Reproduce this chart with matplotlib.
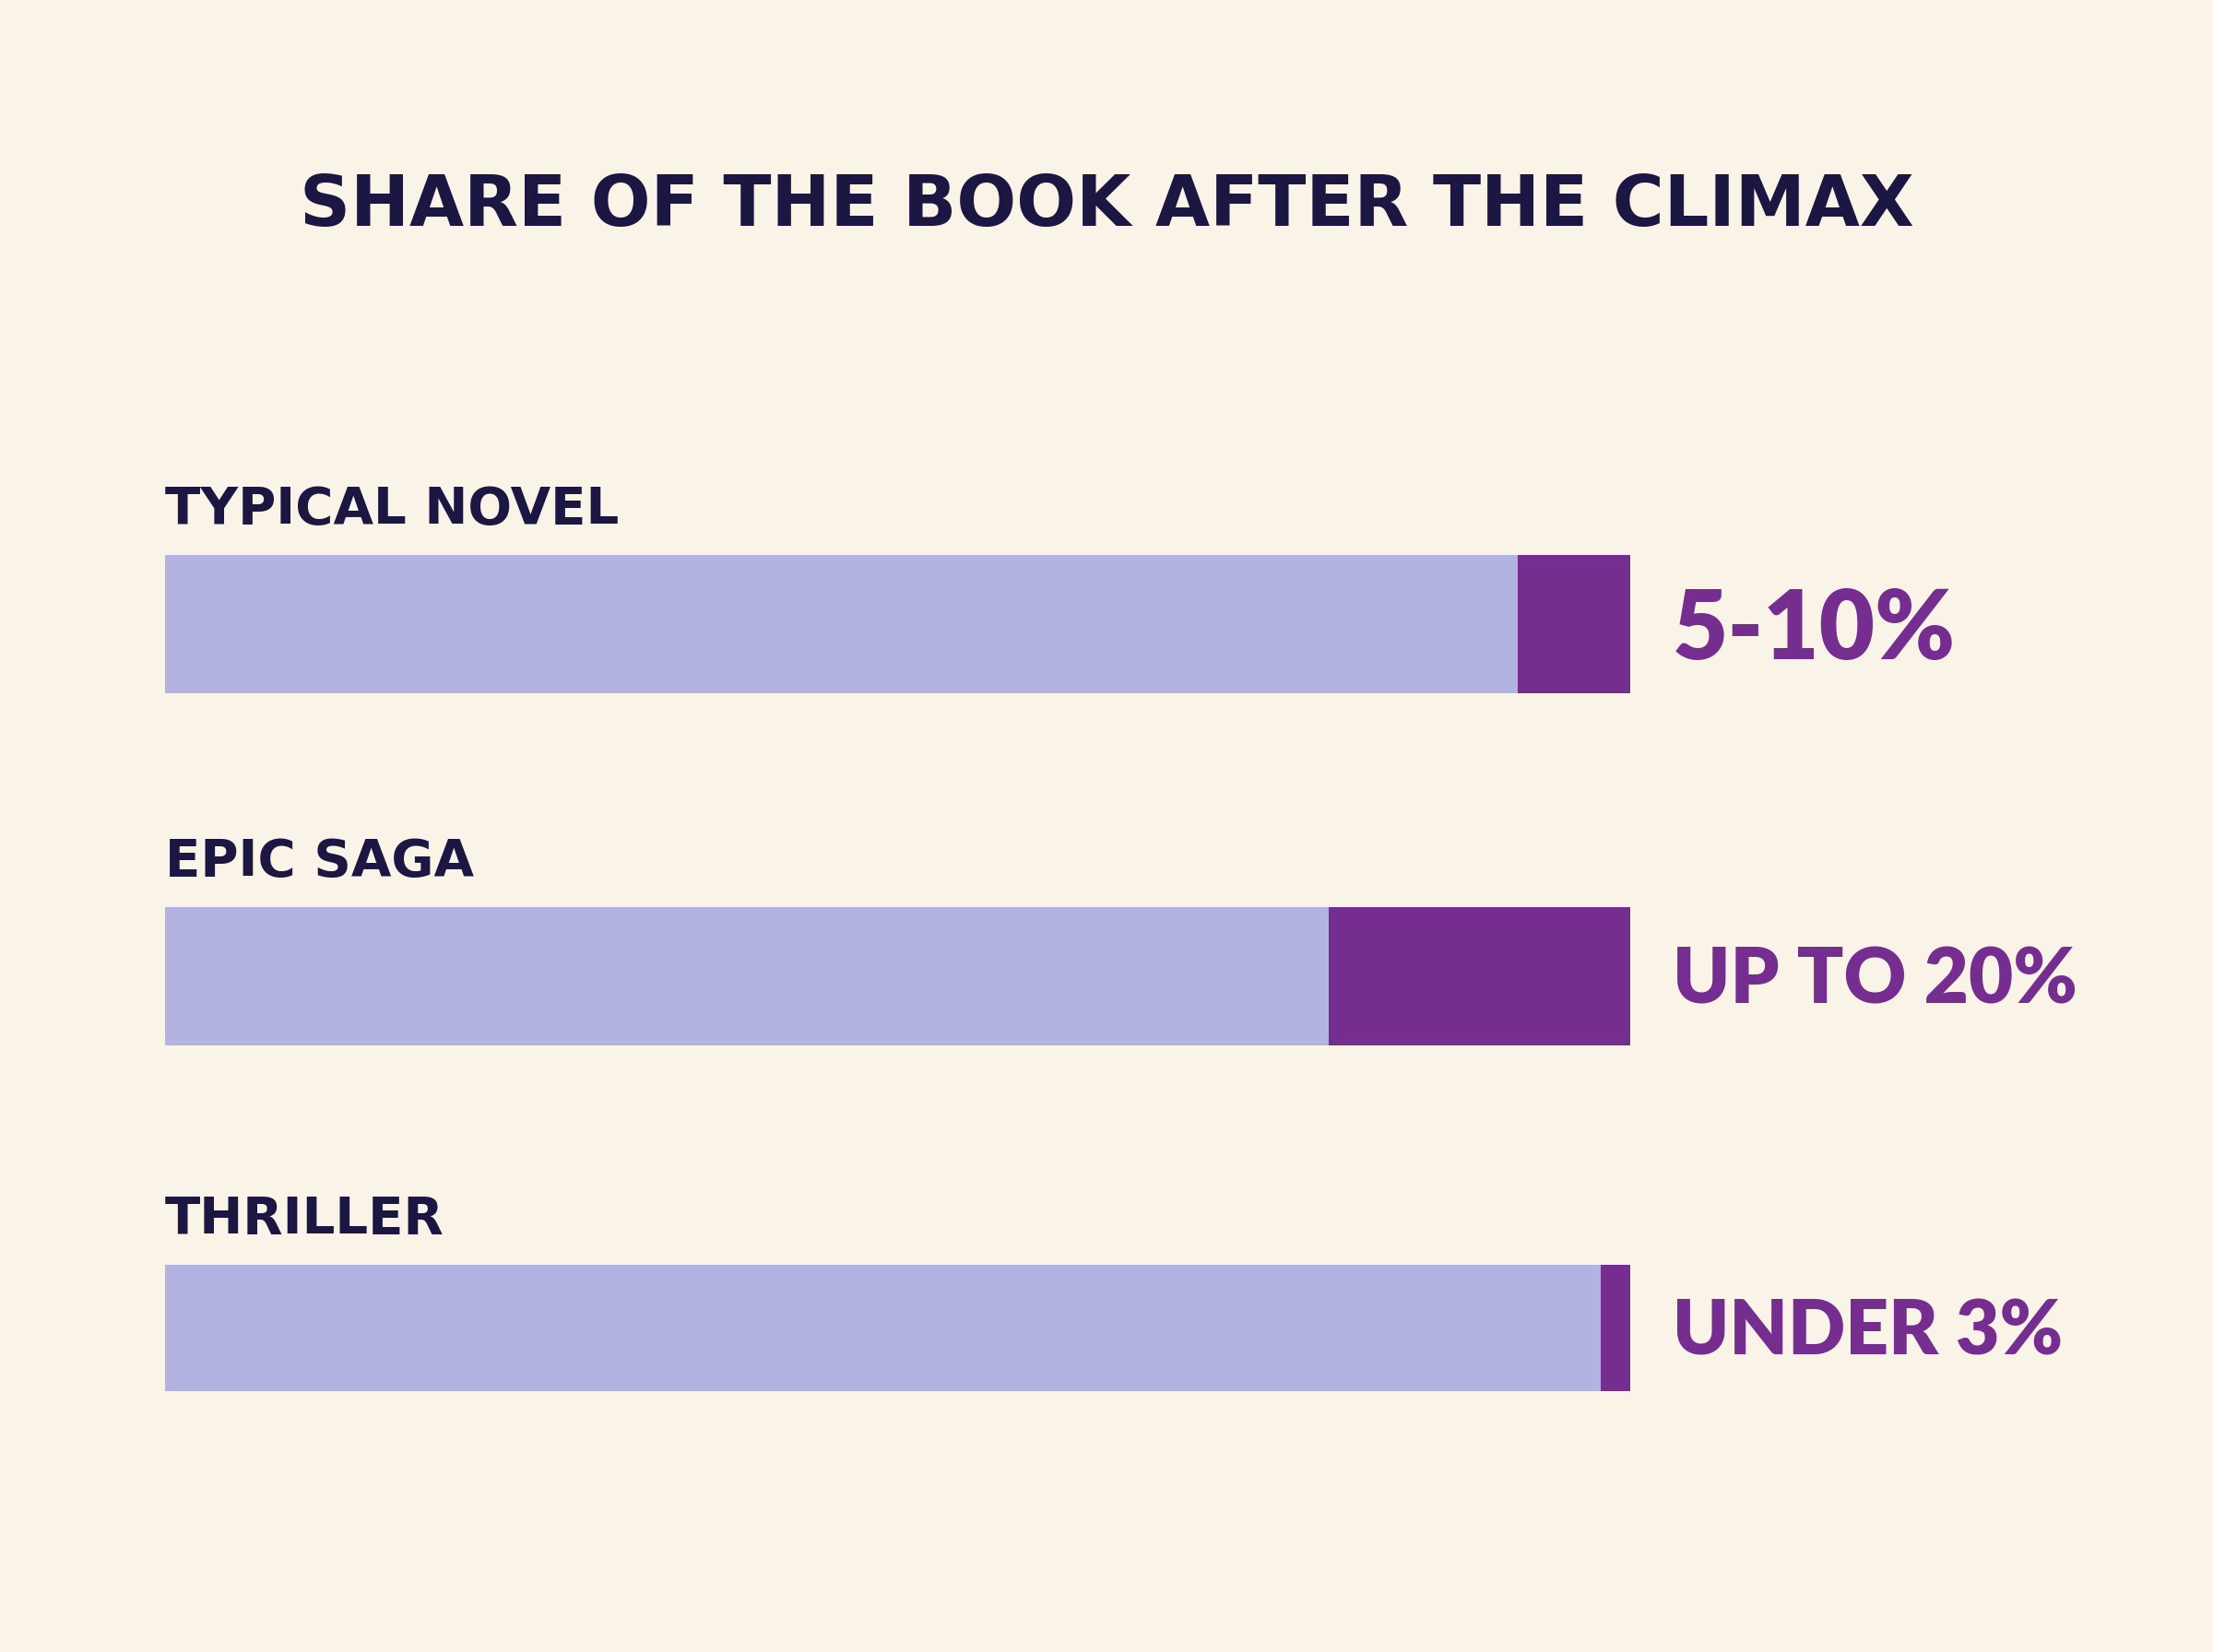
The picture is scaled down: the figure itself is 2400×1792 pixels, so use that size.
import matplotlib
matplotlib.use("Agg")
import matplotlib.pyplot as plt

# ---- data ----
categories = ["TYPICAL NOVEL", "EPIC SAGA", "THRILLER"]
after_climax = [7.7, 20.6, 2.0]          # % of the book after the climax
before_climax = [100 - v for v in after_climax]
value_labels = ["5-10%", "UP TO 20%", "UNDER 3%"]
title = "SHARE OF THE BOOK AFTER THE CLIMAX"

# ---- style ----
BG = "#FAF3E8"
LIGHT = "#B3B3E1"
PURPLE = "#752D90"
NAVY = "#1C1642"

W, H, DPI = 2400, 1792, 100
fig = plt.figure(figsize=(W / DPI, H / DPI), dpi=DPI, facecolor=BG)

# axes: x spans bar region, y spans full figure height
left_px, right_px = 179, 1768
ax = fig.add_axes([left_px / W, 0, (right_px - left_px) / W, 1])
ax.set_facecolor("none")
ax.set_xlim(0, 100)

unit = 381.5                     # px per category step
c0 = 677                         # px from top of first bar center
ax.set_ylim((H - c0) / unit, -c0 / unit)
ax.axis("off")

ypos = list(range(len(categories)))
heights = [150 / unit, 150 / unit, 137 / unit]

ax.barh(ypos, before_climax, height=heights, color=LIGHT, linewidth=0)
ax.barh(ypos, after_climax, left=before_climax, height=heights, color=PURPLE, linewidth=0)

px = 1 / unit
for y, h, cat in zip(ypos, heights, categories):
    ax.text(0, y - h / 2 - 34 * px, cat, ha="left", va="baseline",
            fontsize=40.5, fontweight="bold", color=NAVY, family="DejaVu Sans")

val_sizes = [75, 60, 59]
for y, lab, fs in zip(ypos, value_labels, val_sizes):
    capp = fs * DPI / 72 * 0.72
    ax.text(102.9, y + capp / 2 * px, lab, ha="left", va="baseline",
            fontsize=fs, fontweight="heavy", color=PURPLE, family="Lato",
            clip_on=False)

fig.text(0.5, 1 - 245 / H, title, ha="center", va="baseline",
         fontsize=55, fontweight="bold", color=NAVY, family="DejaVu Sans")

fig.savefig("out.png", dpi=DPI, facecolor=BG)
